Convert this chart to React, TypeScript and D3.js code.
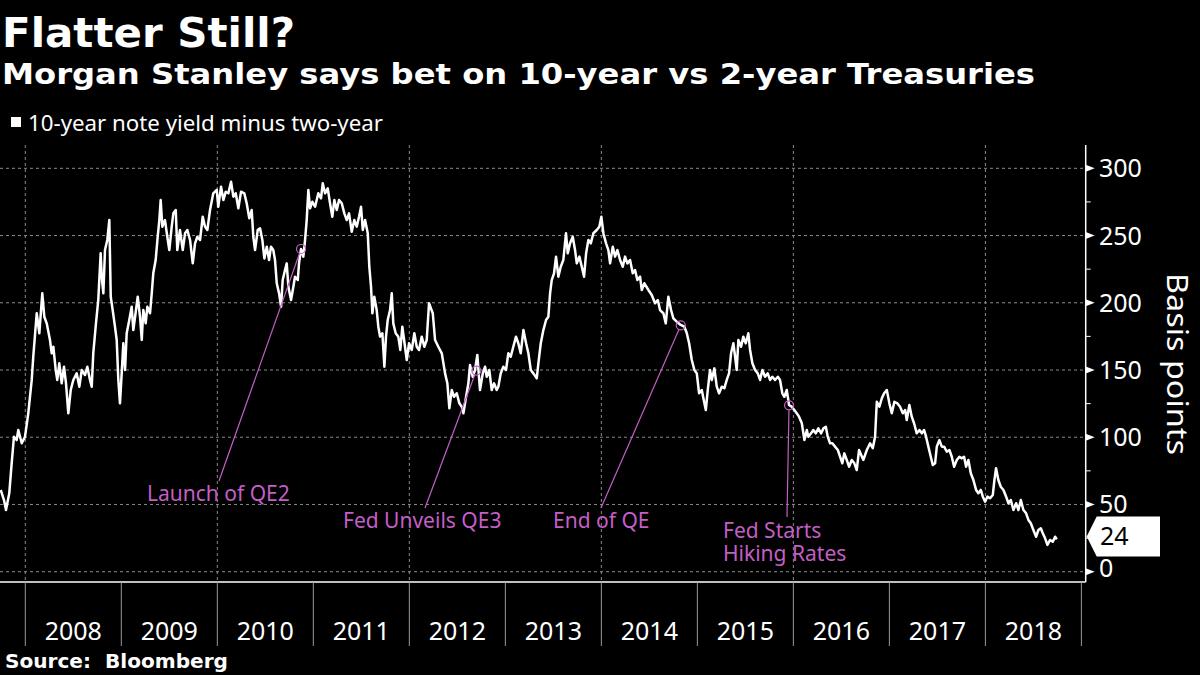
import React from "react";
import * as d3 from "d3";

// 10-year minus 2-year Treasury yield spread, basis points (decimal year, value)
const series: [number, number][] = [
  [2007.744, 60.8], [2007.778, 53.3], [2007.799, 45.9], [2007.833, 58.3], [2007.858, 80.6], [2007.882, 100.4],
  [2007.91, 97.9], [2007.927, 105.4], [2007.963, 95.5], [2007.997, 100.4], [2008.031, 117.8], [2008.067, 142.6],
  [2008.083, 159.9], [2008.119, 192.2], [2008.146, 177.3], [2008.177, 207], [2008.198, 189.6], [2008.223, 184.7],
  [2008.257, 172.3], [2008.275, 162.4], [2008.292, 167.3], [2008.317, 150], [2008.333, 142.6], [2008.354, 155],
  [2008.379, 140.1], [2008.403, 152.4], [2008.424, 140.1], [2008.448, 117.8], [2008.473, 135.1], [2008.5, 142.6],
  [2008.535, 147.5], [2008.563, 137.6], [2008.588, 150], [2008.622, 146.3], [2008.646, 152.4], [2008.674, 142.6],
  [2008.692, 137.6], [2008.708, 162.4], [2008.736, 184.7], [2008.76, 202], [2008.785, 236.8], [2008.796, 219.4],
  [2008.813, 207], [2008.83, 239.2], [2008.854, 246.7], [2008.875, 261.5], [2008.89, 204.5], [2008.91, 194.6],
  [2008.934, 182.2], [2008.952, 172.3], [2008.969, 142.6], [2008.986, 125.2], [2009.004, 147.5], [2009.021, 169.9],
  [2009.039, 150], [2009.056, 177.3], [2009.083, 187.2], [2009.108, 197.1], [2009.125, 179.7], [2009.153, 194.6],
  [2009.171, 204.5], [2009.195, 189.6], [2009.213, 172.3], [2009.229, 194.6], [2009.254, 184.7], [2009.271, 197.1],
  [2009.299, 192.2], [2009.317, 207], [2009.333, 221.9], [2009.358, 231.8], [2009.379, 249.1], [2009.396, 261.5],
  [2009.41, 276.4], [2009.427, 256.6], [2009.455, 261.5], [2009.479, 249.1], [2009.5, 239.2], [2009.525, 256.6],
  [2009.542, 266.5], [2009.567, 269], [2009.583, 239.2], [2009.611, 254.1], [2009.64, 239.2], [2009.664, 251.7],
  [2009.688, 254.1], [2009.716, 246.7], [2009.744, 229.3], [2009.768, 244.2], [2009.792, 249.1], [2009.82, 246.7],
  [2009.848, 264], [2009.872, 256.6], [2009.896, 254.1], [2009.924, 269], [2009.958, 281.4], [2009.994, 283.9],
  [2010.01, 271.4], [2010.039, 286.3], [2010.063, 276.4], [2010.088, 282.6], [2010.115, 281.4], [2010.143, 290],
  [2010.167, 278.9], [2010.192, 281.4], [2010.219, 270.2], [2010.247, 282.6], [2010.281, 281.4], [2010.306, 274],
  [2010.333, 262.8], [2010.358, 269], [2010.375, 249.1], [2010.393, 239.2], [2010.421, 254.1], [2010.445, 255.4],
  [2010.469, 246.7], [2010.49, 233], [2010.515, 241.7], [2010.539, 231.8], [2010.559, 241.7], [2010.583, 239.2],
  [2010.601, 231.8], [2010.619, 214.5], [2010.643, 207], [2010.664, 197.1], [2010.681, 216.9], [2010.705, 224.4],
  [2010.723, 229.3], [2010.74, 211.9], [2010.768, 202], [2010.792, 211.9], [2010.809, 219.4], [2010.838, 216.9],
  [2010.851, 229.3], [2010.872, 240], [2010.896, 234.3], [2010.914, 246.7], [2010.931, 261.5], [2010.948, 283.9],
  [2010.966, 270.2], [2010.99, 275.1], [2011.018, 271.4], [2011.052, 281.4], [2011.08, 277.7], [2011.098, 288.8],
  [2011.122, 281.4], [2011.15, 285.1], [2011.174, 274], [2011.198, 264], [2011.219, 276.4], [2011.244, 269],
  [2011.268, 276.4], [2011.296, 274], [2011.323, 266.5], [2011.348, 261.5], [2011.372, 266.5], [2011.4, 252.8],
  [2011.427, 261.5], [2011.452, 256.6], [2011.476, 264], [2011.497, 271.4], [2011.515, 254.1], [2011.539, 261.5],
  [2011.567, 251.7], [2011.583, 226.8], [2011.601, 211.9], [2011.615, 192.2], [2011.635, 204.5], [2011.66, 194.6],
  [2011.677, 182.2], [2011.695, 174.8], [2011.719, 177.3], [2011.74, 152.4], [2011.757, 174.8], [2011.775, 187.2],
  [2011.799, 194.6], [2011.817, 207], [2011.833, 184.7], [2011.858, 177.3], [2011.885, 174.8], [2011.906, 164.9],
  [2011.927, 182.2], [2011.955, 167.3], [2011.973, 157.4], [2011.997, 169.9], [2012.025, 164.9], [2012.052, 177.3],
  [2012.077, 167.3], [2012.101, 164.9], [2012.129, 174.8], [2012.156, 167.3], [2012.181, 172.3], [2012.205, 199.6],
  [2012.244, 192.2], [2012.268, 172.3], [2012.302, 167.3], [2012.338, 162.4], [2012.372, 147.5], [2012.396, 140.1],
  [2012.417, 121.5], [2012.442, 135.1], [2012.466, 130.1], [2012.494, 132.7], [2012.521, 125.2], [2012.546, 122.7],
  [2012.563, 117.8], [2012.591, 130.1], [2012.615, 140.1], [2012.632, 153.7], [2012.66, 145], [2012.684, 150],
  [2012.708, 161.2], [2012.736, 135.1], [2012.765, 147.5], [2012.789, 152.4], [2012.806, 145], [2012.833, 150],
  [2012.858, 135.1], [2012.882, 140.1], [2012.91, 135.1], [2012.927, 137.6], [2012.952, 147.5], [2012.979, 152.4],
  [2013.007, 150], [2013.031, 162.4], [2013.056, 159.9], [2013.083, 167.3], [2013.111, 174.8], [2013.135, 169.9],
  [2013.16, 162.4], [2013.188, 179.7], [2013.216, 169.9], [2013.24, 162.4], [2013.265, 150], [2013.292, 147.5],
  [2013.327, 143.8], [2013.344, 155], [2013.369, 169.9], [2013.396, 179.7], [2013.424, 187.2], [2013.448, 189.6],
  [2013.466, 207], [2013.483, 216.9], [2013.507, 221.9], [2013.528, 234.3], [2013.552, 219.4], [2013.577, 226.8],
  [2013.604, 231.8], [2013.632, 251.7], [2013.65, 236.8], [2013.674, 244.2], [2013.702, 249.1], [2013.726, 239.2],
  [2013.744, 229.3], [2013.771, 234.3], [2013.796, 226.8], [2013.82, 219.4], [2013.841, 236.8], [2013.865, 246.7],
  [2013.89, 244.2], [2013.917, 251.7], [2013.952, 254.1], [2013.979, 256.6], [2014.0, 264], [2014.021, 251.7],
  [2014.049, 244.2], [2014.073, 239.2], [2014.091, 229.3], [2014.119, 241.7], [2014.143, 234.3], [2014.167, 239.2],
  [2014.195, 231.8], [2014.223, 226.8], [2014.247, 234.3], [2014.271, 229.3], [2014.299, 231.8], [2014.327, 221.9],
  [2014.351, 224.4], [2014.375, 216.9], [2014.403, 219.4], [2014.421, 209.5], [2014.448, 214.5], [2014.49, 209.5],
  [2014.525, 205.8], [2014.559, 199.6], [2014.588, 202], [2014.611, 194.6], [2014.646, 192.2], [2014.671, 184.7],
  [2014.698, 204.5], [2014.726, 194.6], [2014.75, 188.4], [2014.785, 185.9], [2014.827, 183.5], [2014.865, 182.2],
  [2014.89, 177.3], [2014.914, 169.9], [2014.942, 157.4], [2014.969, 150], [2014.994, 147.5], [2015.018, 132.7],
  [2015.046, 135.1], [2015.063, 128.9], [2015.088, 120.2], [2015.108, 135.1], [2015.132, 150], [2015.15, 142.6],
  [2015.177, 151.2], [2015.202, 137.6], [2015.226, 132.7], [2015.254, 137.6], [2015.281, 136.4], [2015.306, 142.6],
  [2015.33, 147.5], [2015.351, 162.4], [2015.375, 169.9], [2015.393, 159.9], [2015.41, 150], [2015.427, 172.3],
  [2015.455, 167.3], [2015.479, 174.8], [2015.504, 169.9], [2015.531, 177.3], [2015.549, 164.9], [2015.573, 155],
  [2015.601, 150], [2015.629, 147.5], [2015.653, 142.6], [2015.677, 150], [2015.705, 145], [2015.733, 147.5],
  [2015.757, 142.6], [2015.781, 145], [2015.809, 142.6], [2015.838, 145], [2015.861, 142.6], [2015.885, 132.7],
  [2015.906, 130.1], [2015.931, 135.1], [2015.955, 124], [2015.983, 122.7], [2016.01, 120.2], [2016.035, 117.8],
  [2016.059, 115.3], [2016.088, 110.4], [2016.115, 97.9], [2016.14, 105.4], [2016.156, 100.4], [2016.184, 102.9],
  [2016.208, 105.4], [2016.233, 102.9], [2016.26, 106.6], [2016.289, 102.9], [2016.313, 106.6], [2016.338, 107.8],
  [2016.358, 100.4], [2016.382, 95.5], [2016.406, 95.5], [2016.434, 93], [2016.463, 90.5], [2016.486, 85.5],
  [2016.51, 80.6], [2016.531, 88], [2016.556, 83.1], [2016.58, 78.1], [2016.608, 83.1], [2016.635, 80.6],
  [2016.66, 75.6], [2016.684, 90.5], [2016.729, 83.1], [2016.765, 90.5], [2016.799, 95.5], [2016.827, 91.8],
  [2016.851, 100.4], [2016.869, 126.4], [2016.896, 122.7], [2016.921, 128.9], [2016.945, 132.7], [2016.973, 135.1],
  [2017.0, 125.2], [2017.025, 117.8], [2017.052, 126.4], [2017.083, 125.2], [2017.111, 122.7], [2017.14, 117.8],
  [2017.164, 120.2], [2017.181, 112.8], [2017.208, 124], [2017.233, 115.3], [2017.257, 110.4], [2017.285, 102.9],
  [2017.313, 105.4], [2017.338, 102.9], [2017.361, 105.4], [2017.382, 100.4], [2017.406, 93], [2017.431, 85.5],
  [2017.452, 79.3], [2017.476, 80.6], [2017.494, 93], [2017.521, 97.9], [2017.546, 93], [2017.57, 93],
  [2017.598, 89.2], [2017.625, 90.5], [2017.65, 85.5], [2017.674, 78.1], [2017.702, 83.1], [2017.729, 85.5],
  [2017.754, 84.3], [2017.778, 85.5], [2017.799, 78.1], [2017.823, 83.1], [2017.848, 73.2], [2017.875, 68.2],
  [2017.903, 60.8], [2017.927, 58.3], [2017.952, 60.8], [2017.973, 55.8], [2017.997, 52.1], [2018.021, 55.8],
  [2018.049, 54.6], [2018.077, 57], [2018.094, 68.2], [2018.111, 76.9], [2018.135, 68.2], [2018.16, 63.2],
  [2018.188, 60.8], [2018.216, 55.8], [2018.24, 50.9], [2018.265, 53.3], [2018.292, 45.9], [2018.32, 50.9],
  [2018.344, 45.9], [2018.369, 53.3], [2018.396, 45.9], [2018.424, 43.4], [2018.448, 38.5], [2018.473, 36],
  [2018.5, 31], [2018.528, 26], [2018.552, 31], [2018.577, 32.3], [2018.598, 28.6], [2018.622, 24.8],
  [2018.646, 19.9], [2018.674, 23.6], [2018.702, 22.3], [2018.726, 26], [2018.744, 24],
];

const yearLabels = ["2008", "2009", "2010", "2011", "2012", "2013", "2014", "2015", "2016", "2017", "2018"];
const yMajorTicks = [0, 50, 100, 150, 200, 250, 300];
const yMinorTicks = [25, 75, 125, 175, 225, 275];
const gridYears = [2008, 2010, 2012, 2014, 2016, 2018];

const annotationLabels = [["Launch of QE2"], ["Fed Unveils QE3"], ["End of QE"], ["Fed Starts", "Hiking Rates"]];
const annotationDates = [2010.872, 2012.698, 2014.827, 2015.955];
const annotationValues = [240, 149.6, 183.2, 123.7];

const title = "Flatter Still?";
const subtitle = "Morgan Stanley says bet on 10-year vs 2-year Treasuries";
const legendLabel = "10-year note yield minus two-year";
const axisTitle = "Basis points";
const source = "Source:  Bloomberg";
const lastLabel = "24";

// layout for annotation text and leader line ends
const annLayout = [
  { tx: 147, ty: 501, lx: 219, ly: 481 },
  { tx: 343, ty: 528, lx: 425, ly: 508 },
  { tx: 553, ty: 528, lx: 601, ly: 508 },
  { tx: 723, ty: 538, lx: 787, ly: 517 },
];

const MAGENTA = "#c35fc6";
const BOLD = "'DejaVu Sans', Verdana, sans-serif";
const REG = "'Noto Sans', 'Open Sans', sans-serif";

export default function App() {
  const W = 1200;
  const H = 675;
  const axisX = 1085.7;
  const plotBottom = 582;
  const plotTop = 145;

  const x = d3.scaleLinear().domain([2008, 2019]).range([25.3, 1081.4]);
  const y = d3.scaleLinear().domain([0, 300]).range([571.7, 168.3]);

  const line = d3
    .line<[number, number]>()
    .x((d) => x(d[0]))
    .y((d) => y(d[1]))
    .curve(d3.curveLinear);

  const last = series[series.length - 1];
  const ly = y(last[1]) - 3;

  return (
    <svg
      width={W}
      height={H}
      viewBox={`0 0 ${W} ${H}`}
      style={{ position: "absolute", left: 0, top: 0, display: "block", background: "#000" }}
    >
      <rect x={0} y={0} width={W} height={H} fill="#000" />

      {/* titles */}
      <text
        x={2}
        y={47}
        fill="#fff"
        fontFamily={BOLD}
        fontWeight="bold"
        fontSize={41}
        textLength={293}
        lengthAdjust="spacingAndGlyphs"
      >
        {title}
      </text>
      <text
        x={2}
        y={84}
        fill="#fff"
        fontFamily={BOLD}
        fontWeight="bold"
        fontSize={29}
        textLength={1033}
        lengthAdjust="spacingAndGlyphs"
      >
        {subtitle}
      </text>

      {/* legend */}
      <rect x={11} y={117} width={10} height={10} fill="#fff" />
      <text
        x={28}
        y={131}
        fill="#fff"
        fontFamily={REG}
        fontSize={21}
        textLength={355}
        lengthAdjust="spacingAndGlyphs"
      >
        {legendLabel}
      </text>

      {/* horizontal grid */}
      {yMajorTicks.map((t) => (
        <line
          key={"hg" + t}
          x1={0}
          x2={axisX}
          y1={y(t)}
          y2={y(t)}
          stroke="#8a8a8a"
          strokeWidth={1}
          strokeDasharray="3,3"
        />
      ))}
      {/* vertical grid */}
      {gridYears.map((g) => (
        <line
          key={"vg" + g}
          x1={x(g)}
          x2={x(g)}
          y1={plotTop}
          y2={plotBottom}
          stroke="#8a8a8a"
          strokeWidth={1}
          strokeDasharray="3,3"
        />
      ))}

      {/* data line */}
      <path d={line(series) || ""} fill="none" stroke="#fff" strokeWidth={2.5} strokeLinejoin="round" />

      {/* annotations */}
      {annotationDates.map((dt, i) => {
        const cx = x(dt);
        const cy = y(annotationValues[i]);
        const L = annLayout[i];
        const dx = L.lx - cx;
        const dy = L.ly - cy;
        const len = Math.sqrt(dx * dx + dy * dy);
        const r = 4.5;
        return (
          <g key={"ann" + i}>
            <circle cx={cx} cy={cy} r={r} fill="none" stroke={MAGENTA} strokeWidth={1.2} />
            <line
              x1={cx + (dx / len) * r}
              y1={cy + (dy / len) * r}
              x2={L.lx}
              y2={L.ly}
              stroke={MAGENTA}
              strokeWidth={1.2}
            />
            <text x={L.tx} y={L.ty} fill={MAGENTA} fontFamily={REG} fontSize={21}>
              {annotationLabels[i].map((s, j) => (
                <tspan key={j} x={L.tx} dy={j === 0 ? 0 : 23}>
                  {s}
                </tspan>
              ))}
            </text>
          </g>
        );
      })}

      {/* bottom axis line */}
      <line x1={0} x2={axisX} y1={plotBottom} y2={plotBottom} stroke="#fff" strokeWidth={1.5} />
      {/* right axis line */}
      <line x1={axisX} x2={axisX} y1={plotTop} y2={plotBottom} stroke="#fff" strokeWidth={1.5} />

      {/* year separators and labels */}
      {d3.range(2008, 2020).map((yr) => (
        <line
          key={"ys" + yr}
          x1={x(yr)}
          x2={x(yr)}
          y1={plotBottom}
          y2={646}
          stroke="#9a9a9a"
          strokeWidth={1}
        />
      ))}
      {yearLabels.map((lab, i) => (
        <text
          key={"yl" + lab}
          x={x(2008 + i + 0.5)}
          y={640}
          fill="#fff"
          fontFamily={REG}
          fontSize={25}
          textAnchor="middle"
        >
          {lab}
        </text>
      ))}

      {/* right axis ticks */}
      {yMinorTicks.map((t) => (
        <line key={"mt" + t} x1={axisX} x2={axisX + 5} y1={y(t)} y2={y(t)} stroke="#fff" strokeWidth={1} />
      ))}
      {yMajorTicks.map((t) => (
        <g key={"mj" + t}>
          <path
            d={`M${axisX},${y(t) - 3.5} L${axisX + 9},${y(t)} L${axisX},${y(t) + 3.5} Z`}
            fill="#fff"
          />
          <text x={1099} y={y(t) + 9 - (t === 0 ? 4 : 0)} fill="#fff" fontFamily={REG} fontSize={25}>
            {t}
          </text>
        </g>
      ))}

      {/* last value label */}
      <path
        d={`M${axisX + 1},${ly} L${axisX + 11},${ly - 20} L1160,${ly - 20} L1160,${ly + 20} L${axisX + 11},${ly + 20} Z`}
        fill="#fff"
      />
      <text x={1100} y={ly + 9} fill="#000" fontFamily={REG} fontSize={25}>
        {lastLabel}
      </text>

      {/* axis title */}
      <text
        transform={`translate(1167,364) rotate(90)`}
        fill="#fff"
        fontFamily={REG}
        fontSize={29}
        textAnchor="middle"
        textLength={182}
        lengthAdjust="spacingAndGlyphs"
      >
        {axisTitle}
      </text>

      {/* source */}
      <text
        x={5}
        y={668}
        fill="#fff"
        fontFamily={BOLD}
        fontWeight="bold"
        fontSize={19}
        xmlSpace="preserve"
        textLength={223}
        lengthAdjust="spacingAndGlyphs"
      >
        {source}
      </text>
    </svg>
  );
}
